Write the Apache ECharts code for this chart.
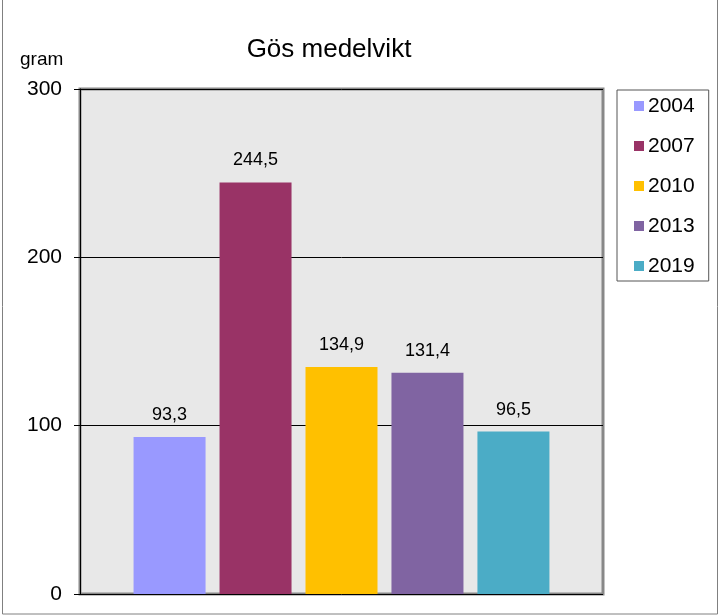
<!DOCTYPE html>
<html>
<head>
<meta charset="utf-8">
<script src="https://cdn.jsdelivr.net/npm/echarts@6/dist/echarts.min.js"></script>
<style>html,body{margin:0;padding:0;background:#fff}#c{width:720px;height:616px}</style>
</head>
<body>
<div id="c"></div>
<script>
var years = ['2004', '2007', '2010', '2013', '2019'];
var values = [93.3, 244.5, 134.9, 131.4, 96.5];
var colors = ['#9999FF', '#993366', '#FFC000', '#8064A2', '#4BACC6'];
var yTicks = [0, 100, 200, 300];

var chart = echarts.init(document.getElementById('c'));
var series = years.map(function (y, i) {
  return {
    name: y,
    type: 'bar',
    data: [values[i]],
    barWidth: 72,
    barGap: '19.4%',
    itemStyle: { color: colors[i] },
    label: {
      show: true, position: 'top', distance: 13,
      fontFamily: 'Liberation Sans', fontSize: 18, color: '#000',
      formatter: function (p) { return String(p.value).replace('.', ','); }
    }
  };
});
chart.setOption({
  animation: false,
  textStyle: { fontFamily: 'Liberation Sans' },
  title: {
    text: 'Gös medelvikt', left: 324, top: 32, textAlign: 'center',
    textStyle: { fontFamily: 'Liberation Sans', fontSize: 26, fontWeight: 'normal', color: '#000' }
  },
  graphic: [
    { type: 'rect', shape: { x: 2.5, y: -5, width: 715, height: 619 }, style: { fill: 'none', stroke: '#808080', lineWidth: 1 }, silent: true },
    { type: 'text', left: 20, top: 50, style: { text: 'gram', font: '19px "Liberation Sans"', fill: '#000' } }
  ],
  legend: {
    orient: 'vertical', left: 617, top: 90,
    data: years,
    icon: 'rect', itemWidth: 10, itemHeight: 10, itemGap: 18,
    padding: [5, 14, 4, 17],
    backgroundColor: '#fff', borderColor: '#555', borderWidth: 1,
    textStyle: { fontFamily: 'Liberation Sans', fontSize: 21, color: '#000', lineHeight: 22, padding: [0, 0, 0, -1] }
  },
  grid: {
    left: 80, top: 89, width: 523, height: 505,
    show: true, backgroundColor: '#e8e8e8', borderColor: '#888', borderWidth: 3
  },
  xAxis: {
    type: 'category', data: [''],
    axisLine: { show: false }, axisTick: { show: false }, axisLabel: { show: false }
  },
  yAxis: {
    type: 'value', min: yTicks[0], max: yTicks[yTicks.length - 1], interval: 100,
    axisLine: { show: true, lineStyle: { color: '#000', width: 1 } },
    axisTick: { show: true, length: 6, lineStyle: { color: '#000' } },
    axisLabel: { fontFamily: 'Liberation Sans', fontSize: 21, color: '#000', margin: 18 },
    splitLine: { show: true, lineStyle: { color: '#000', width: 1 } }
  },
  series: series
});
</script>
</body>
</html>
